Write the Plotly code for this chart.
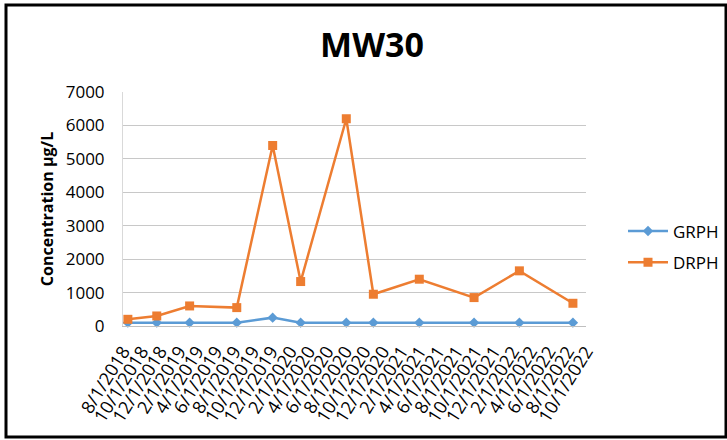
import plotly.graph_objects as go

# ---- data ----
sample_dates = ["2018-08-17", "2018-11-20", "2019-03-08", "2019-08-10", "2019-12-06",
                "2020-03-07", "2020-08-04", "2020-11-01", "2021-04-01", "2021-09-28",
                "2022-02-24", "2022-08-19"]
grph = [100, 100, 100, 100, 250, 100, 100, 100, 100, 100, 100, 100]
drph = [200, 300, 600, 550, 5400, 1330, 6200, 950, 1400, 850, 1650, 680]
y_ticks = [0, 1000, 2000, 3000, 4000, 5000, 6000, 7000]
x_range = ["2018-08-01", "2022-10-01"]

W, H = 727, 440
L, R, T, B = 123, 141, 92, 114
pw, ph = W - L - R, H - T - B

FONT = "Open Sans"
fig = go.Figure()
fig.add_trace(go.Scatter(x=sample_dates, y=grph, name="GRPH", mode="lines+markers",
                         legendgroup="g1",
                         line=dict(color="#5B9BD5", width=2.5),
                         marker=dict(symbol="diamond", size=8, color="#5B9BD5"),
                         cliponaxis=False))
fig.add_trace(go.Scatter(x=sample_dates, y=drph, name="DRPH", mode="lines+markers",
                         legendgroup="g2",
                         line=dict(color="#ED7D31", width=2.5),
                         marker=dict(symbol="square", size=9, color="#ED7D31"),
                         cliponaxis=False))

def px_x(p):
    return (p - L) / pw

def px_y(p):
    return (H - B - p) / ph

fig.update_layout(
    width=W, height=H,
    margin=dict(l=L, r=R, t=T, b=B, autoexpand=False),
    paper_bgcolor="white", plot_bgcolor="white",
    font=dict(family=FONT, color="#000000", size=16),
    title=dict(text="<b>MW30</b>", x=372 / W, xanchor="center", y=1 - 45 / H, yanchor="middle",
               font=dict(family=FONT, size=34, color="#000000")),
    showlegend=True,
    legend=dict(x=px_x(623), xanchor="left", y=px_y(247), yanchor="middle",
                font=dict(family=FONT, size=17, color="#000000"),
                bgcolor="rgba(0,0,0,0)", itemwidth=40, tracegroupgap=6),
    xaxis=dict(type="date", range=x_range, tick0="2018-08-01", dtick="M2",
               tickformat="%-m/%-d/%Y", tickangle=-58,
               tickfont=dict(family=FONT, size=18, color="#000000"),
               showgrid=False, showline=True, linecolor="#BFBFBF", linewidth=1,
               ticks="", zeroline=False, automargin=False, ticklabelstandoff=7),
    yaxis=dict(range=[0, 7000], tickvals=y_ticks,
               tickfont=dict(family=FONT, size=17, color="#000000"),
               showgrid=True, gridcolor="#C8C8C8", gridwidth=1,
               showline=True, linecolor="#D9D9D9", zeroline=False, ticks="",
               ticklabelstandoff=14, automargin=False,
               title=dict(text="<b>Concentration µg/L</b>",
                          font=dict(family=FONT, size=16, color="#000000"), standoff=8)),
)

# outer frame of the chart image
fig.add_shape(type="rect", xref="paper", yref="paper",
              x0=px_x(6), x1=px_x(726), y0=px_y(437), y1=px_y(5),
              line=dict(color="black", width=3), fillcolor="rgba(0,0,0,0)", layer="above")

fig.write_html("out.html", config={"displayModeBar": False},
               post_script="document.body.style.margin='0';document.body.style.overflow='hidden';")
